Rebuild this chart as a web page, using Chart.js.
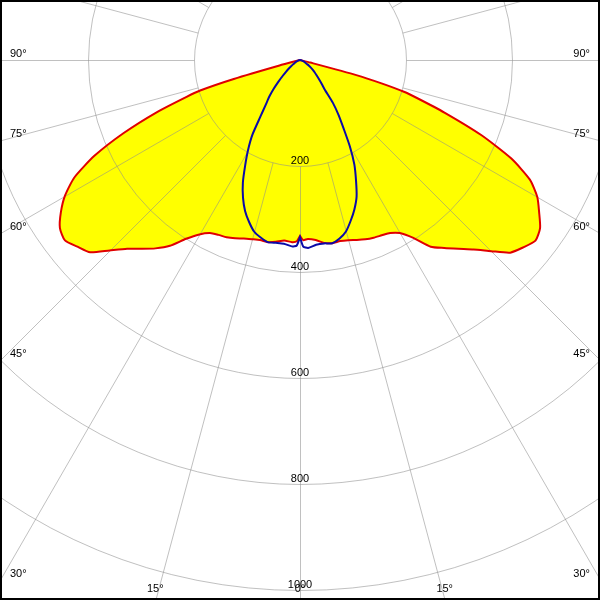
<!DOCTYPE html>
<html>
<head>
<meta charset="utf-8">
<script src="https://cdn.jsdelivr.net/npm/chart.js@4.4.0/dist/chart.umd.min.js"></script>
<style>
  html, body { margin: 0; padding: 0; background: #fff; }
  canvas { display: block; }
</style>
</head>
<body>
<canvas id="chart" width="600" height="600"></canvas>
<script>
// gamma angles (0 = straight down), shared by both planes
const angles = [0, 1, 2.5, 5, 7.5, 10, 12.5, 15, 17.5, 20, 22.5, 25, 27.5, 30, 32.5, 35, 37.5, 40, 42.5, 45,
  47.5, 50, 52.5, 55, 57.5, 60, 62.5, 65, 67.5, 70, 72, 73, 74, 75, 76, 80, 90];

// C0-C180 plane (red), cd/klm
const redLeft = [332, 342, 344, 342, 346, 349, 348, 350, 353, 358, 362, 364, 368, 380, 400, 428, 448, 465, 483, 508,
  537, 548, 559, 553, 535, 512, 480, 428, 360, 287, 225, 197, 130, 40, 0, 0, 0];
const redRight = [332, 340, 338, 341, 348, 351, 350, 352, 356, 360, 363, 365, 368, 377, 398, 430, 447, 465, 485, 510,
  538, 550, 560, 553, 535, 517, 489, 440, 370, 290, 232, 205, 160, 110, 20, 0, 0];

// C90-C270 plane (blue)
const blueLeft = [334, 350, 352, 348, 348, 349, 343, 335, 320, 303, 281, 255, 224, 196, 167, 130, 106, 90, 73, 57,
  44, 34, 27, 20, 16, 12, 10, 8, 7, 5, 4, 4, 3, 3, 2, 1, 0];
const blueRight = [334, 352, 355, 350, 349, 351, 345, 335, 318, 300, 279, 250, 222, 188, 153, 127, 102, 72, 60, 50,
  42, 36, 31, 25, 20, 15, 12, 10, 8, 6, 5, 4, 4, 3, 2, 1, 0];

const ringValues = [200, 400, 600, 800, 1000];
const sideTicks = [90, 75, 60, 45, 30];
const bottomTicks = [15, 0];

const toXY = (deg, r, side) => {
  const t = deg * Math.PI / 180;
  return { x: side * r * Math.sin(t), y: -r * Math.cos(t) };
};

let buildCurve = (left, right) => {
  let pts = [];
  for (let i = angles.length - 1; i >= 0; i--) pts.push(toXY(angles[i], left[i], -1));
  for (let i = 0; i < angles.length; i++) pts.push(toXY(angles[i], right[i], 1));
  return pts;
};

const redPoints = buildCurve(redLeft, redRight);
const bluePoints = buildCurve(blueLeft, blueRight);

const FONT = '11px "Liberation Sans", Arial, sans-serif';

const polarGrid = {
  id: 'polarGrid',
  afterDatasetDraw(chart, args) {
    if (args.index !== 2) return;
    const { ctx, scales: { x, y } } = chart;
    const cx = x.getPixelForValue(0), cy = y.getPixelForValue(0);
    const unit = x.getPixelForValue(1) - cx;
    ctx.save();
    ctx.translate(0.5, 0.5);
    ctx.strokeStyle = 'rgba(140,140,140,0.55)';
    ctx.lineWidth = 1;
    ringValues.forEach(v => {
      ctx.beginPath();
      ctx.arc(cx, cy, v * unit, 0, Math.PI * 2);
      ctx.stroke();
    });
    const r0 = ringValues[0] * unit, r1 = 3000 * unit;
    for (let a = 0; a < 360; a += 15) {
      const t = a * Math.PI / 180;
      const dx = Math.sin(t), dy = Math.cos(t);
      ctx.beginPath();
      ctx.moveTo(cx + dx * r0, cy + dy * r0);
      ctx.lineTo(cx + dx * r1, cy + dy * r1);
      ctx.stroke();
    }
    ctx.restore();
  },
  afterDraw(chart) {
    const { ctx, chartArea, scales: { x, y } } = chart;
    const cx = x.getPixelForValue(0), cy = y.getPixelForValue(0);
    const unit = x.getPixelForValue(1) - cx;
    ctx.save();
    ctx.fillStyle = '#000';
    ctx.font = FONT;
    // ring labels
    ctx.textAlign = 'center';
    ctx.textBaseline = 'alphabetic';
    ringValues.forEach(v => ctx.fillText(String(v), cx, cy + v * unit - 2));
    // angle labels on the sides
    ctx.textBaseline = 'middle';
    sideTicks.forEach(a => {
      const t = a * Math.PI / 180;
      const ey = cy + (cx - chartArea.left) / Math.sin(t) * Math.cos(t);
      ctx.textAlign = 'left';
      ctx.fillText(a + '°', chartArea.left + 10, ey - 6);
      ctx.textAlign = 'right';
      ctx.fillText(a + '°', chartArea.right - 10, ey - 6);
    });
    // angle labels at the bottom
    ctx.textAlign = 'center';
    bottomTicks.forEach(a => {
      const t = a * Math.PI / 180;
      const off = (chartArea.bottom - cy) * Math.tan(t);
      ctx.fillText(a + '°', cx - off, chartArea.bottom - 11);
      if (a !== 0) ctx.fillText(a + '°', cx + off, chartArea.bottom - 11);
    });
    // frame
    ctx.strokeStyle = '#000';
    ctx.lineWidth = 2;
    ctx.strokeRect(1, 1, 598, 598);
    ctx.restore();
  }
};

new Chart(document.querySelector('#chart'), {
  type: 'scatter',
  data: {
    datasets: [
      {
        label: 'C90-C270',
        data: bluePoints,
        showLine: true,
        borderColor: '#0a0aa8',
        borderWidth: 2,
        pointRadius: 0,
        tension: 0.2,
        fill: false,
      },
      {
        label: 'C0-C180',
        data: redPoints,
        showLine: true,
        borderColor: '#e00000',
        borderWidth: 2,
        pointRadius: 0,
        tension: 0.2,
        fill: false,
      },
      {
        label: 'fill',
        data: redPoints,
        showLine: true,
        borderWidth: 0,
        borderColor: 'rgba(0,0,0,0)',
        backgroundColor: '#ffff00',
        pointRadius: 0,
        tension: 0.2,
        fill: 'shape',
      },
    ],
  },
  options: {
    responsive: false,
    animation: false,
    devicePixelRatio: 1,
    layout: { padding: 0 },
    plugins: { legend: { display: false }, tooltip: { enabled: false } },
    scales: {
      x: { type: 'linear', min: -566.04, max: 566.04, display: false },
      y: { type: 'linear', min: -1018.87, max: 113.21, display: false },
    },
  },
  plugins: [polarGrid],
});
</script>
</body>
</html>
